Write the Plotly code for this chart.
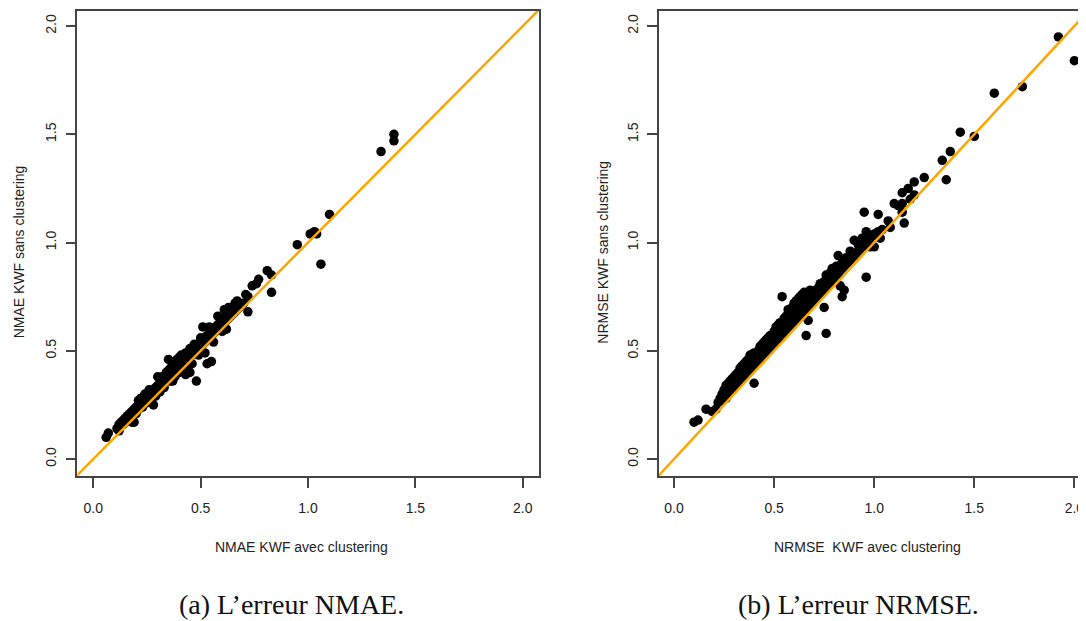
import plotly.graph_objects as go

# ---------------- data ----------------
nmae_avec = [0.06,0.07,0.11,0.12,0.12,0.13,0.14,0.14,0.15,0.15,0.16,0.16,0.17,0.17,0.18,0.18,0.18,0.19,0.19,0.19,
             0.20,0.20,0.20,0.21,0.21,0.21,0.22,0.22,0.22,0.23,0.23,0.23,0.24,0.24,0.24,0.25,0.25,0.25,0.26,0.26,
             0.26,0.27,0.27,0.27,0.28,0.28,0.28,0.29,0.29,0.29,0.30,0.30,0.30,0.31,0.31,0.31,0.32,0.32,0.32,0.33,
             0.33,0.33,0.34,0.34,0.34,0.35,0.35,0.35,0.35,0.36,0.36,0.36,0.36,0.37,0.37,0.37,0.37,0.38,0.38,0.38,
             0.38,0.39,0.39,0.39,0.40,0.40,0.40,0.40,0.41,0.41,0.41,0.42,0.42,0.42,0.43,0.43,0.43,0.43,0.44,0.44,
             0.44,0.45,0.45,0.45,0.45,0.46,0.46,0.46,0.47,0.47,0.47,0.48,0.48,0.48,0.49,0.49,0.49,0.50,0.50,0.50,
             0.51,0.51,0.51,0.52,0.52,0.52,0.53,0.53,0.53,0.54,0.54,0.54,0.55,0.55,0.55,0.56,0.56,0.56,0.57,0.57,
             0.58,0.58,0.58,0.59,0.59,0.60,0.60,0.60,0.61,0.61,0.61,0.62,0.62,0.62,0.63,0.63,0.64,0.64,0.65,0.65,
             0.66,0.66,0.67,0.67,0.68,0.68,0.69,0.70,0.71,0.72,0.72,0.74,0.76,0.77,0.81,0.83,0.83,0.95,1.01,1.03,
             1.04,1.06,1.10,1.34,1.40,1.40]
nmae_sans = [0.10,0.12,0.14,0.16,0.13,0.17,0.16,0.18,0.17,0.19,0.18,0.20,0.19,0.21,0.20,0.22,0.17,0.21,0.23,0.17,
             0.22,0.24,0.21,0.23,0.25,0.27,0.24,0.26,0.28,0.25,0.27,0.24,0.26,0.28,0.30,0.27,0.29,0.26,0.28,0.30,
             0.32,0.29,0.31,0.27,0.30,0.32,0.25,0.31,0.33,0.29,0.32,0.34,0.38,0.33,0.35,0.31,0.34,0.36,0.38,0.35,
             0.37,0.33,0.36,0.38,0.40,0.37,0.39,0.41,0.46,0.38,0.40,0.42,0.36,0.39,0.41,0.44,0.36,0.40,0.42,0.45,
             0.38,0.41,0.43,0.46,0.42,0.44,0.47,0.40,0.43,0.45,0.48,0.44,0.46,0.41,0.45,0.47,0.49,0.39,0.46,0.48,
             0.42,0.47,0.49,0.51,0.40,0.48,0.50,0.44,0.49,0.51,0.53,0.50,0.52,0.36,0.51,0.53,0.48,0.52,0.54,0.56,
             0.53,0.55,0.61,0.54,0.56,0.49,0.55,0.57,0.44,0.56,0.58,0.61,0.45,0.57,0.59,0.58,0.60,0.54,0.59,0.61,
             0.60,0.62,0.66,0.61,0.63,0.62,0.64,0.59,0.63,0.65,0.69,0.64,0.66,0.60,0.65,0.70,0.66,0.68,0.67,0.70,
             0.68,0.72,0.69,0.73,0.70,0.72,0.71,0.72,0.76,0.68,0.75,0.80,0.81,0.83,0.87,0.85,0.77,0.99,1.04,1.05,
             1.04,0.90,1.13,1.42,1.47,1.50]

nrmse_avec = [0.10,0.12,0.16,0.19,0.21,0.22,0.23,0.24,0.24,0.25,0.25,0.26,0.26,0.26,0.27,0.27,0.27,0.28,0.28,0.28,
              0.29,0.29,0.29,0.30,0.30,0.30,0.31,0.31,0.31,0.32,0.32,0.32,0.33,0.33,0.33,0.34,0.34,0.34,0.35,0.35,
              0.35,0.36,0.36,0.36,0.37,0.37,0.37,0.38,0.38,0.38,0.39,0.39,0.39,0.40,0.40,0.40,0.40,0.41,0.41,0.42,
              0.42,0.42,0.43,0.43,0.43,0.44,0.44,0.44,0.45,0.45,0.45,0.46,0.46,0.46,0.47,0.47,0.47,0.48,0.48,0.48,
              0.49,0.49,0.50,0.50,0.50,0.51,0.51,0.51,0.52,0.52,0.52,0.53,0.53,0.53,0.54,0.54,0.54,0.55,0.55,0.55,
              0.56,0.56,0.56,0.57,0.57,0.57,0.58,0.58,0.59,0.59,0.59,0.60,0.60,0.60,0.61,0.61,0.61,0.62,0.62,0.62,
              0.63,0.63,0.63,0.64,0.64,0.64,0.65,0.65,0.65,0.66,0.66,0.66,0.67,0.67,0.67,0.68,0.68,0.68,0.69,0.69,
              0.70,0.70,0.71,0.71,0.72,0.72,0.73,0.73,0.74,0.75,0.75,0.75,0.76,0.76,0.76,0.77,0.78,0.78,0.79,0.79,
              0.80,0.80,0.81,0.81,0.82,0.82,0.83,0.83,0.84,0.84,0.84,0.85,0.85,0.86,0.86,0.87,0.88,0.88,0.89,0.90,
              0.90,0.91,0.92,0.92,0.93,0.94,0.94,0.95,0.95,0.96,0.96,0.96,0.97,0.98,0.98,0.99,1.00,1.00,1.02,1.02,
              1.03,1.04,1.07,1.08,1.10,1.12,1.14,1.14,1.14,1.15,1.17,1.18,1.20,1.20,1.25,1.34,1.36,1.38,1.43,1.50,
              1.60,1.74,1.92,2.00]
nrmse_sans = [0.17,0.18,0.23,0.22,0.23,0.26,0.28,0.27,0.30,0.29,0.32,0.28,0.31,0.34,0.30,0.33,0.35,0.31,0.34,0.36,
              0.32,0.35,0.37,0.33,0.36,0.38,0.34,0.37,0.39,0.35,0.38,0.40,0.36,0.39,0.42,0.37,0.40,0.43,0.38,0.41,
              0.44,0.39,0.42,0.45,0.40,0.43,0.46,0.41,0.44,0.48,0.42,0.45,0.47,0.35,0.43,0.46,0.49,0.44,0.47,0.45,
              0.48,0.50,0.46,0.49,0.52,0.47,0.50,0.53,0.48,0.51,0.54,0.49,0.52,0.55,0.50,0.53,0.56,0.51,0.54,0.57,
              0.52,0.55,0.53,0.56,0.59,0.54,0.57,0.61,0.55,0.58,0.62,0.56,0.59,0.63,0.57,0.60,0.75,0.58,0.62,0.65,
              0.59,0.63,0.66,0.60,0.64,0.69,0.61,0.65,0.62,0.66,0.70,0.63,0.67,0.72,0.64,0.68,0.73,0.65,0.69,0.74,
              0.66,0.70,0.75,0.67,0.71,0.76,0.68,0.72,0.77,0.57,0.69,0.73,0.64,0.70,0.74,0.71,0.75,0.78,0.72,0.76,
              0.73,0.77,0.74,0.78,0.75,0.79,0.76,0.81,0.77,0.70,0.78,0.82,0.58,0.79,0.85,0.80,0.81,0.86,0.82,0.88,
              0.83,0.86,0.84,0.89,0.85,0.94,0.80,0.87,0.75,0.88,0.91,0.78,0.89,0.90,0.93,0.91,0.92,0.96,0.93,0.94,
              1.01,0.95,0.96,0.99,0.97,0.98,1.02,0.99,1.14,0.84,1.00,1.05,1.01,1.02,0.98,1.03,1.04,0.98,1.05,1.13,
              1.02,1.06,1.10,1.07,1.18,1.17,1.14,1.18,1.23,1.09,1.25,1.20,1.22,1.28,1.30,1.38,1.29,1.42,1.51,1.49,
              1.69,1.72,1.95,1.84]

tick_vals = [0.0, 0.5, 1.0, 1.5, 2.0]
tick_text = ["0.0", "0.5", "1.0", "1.5", "2.0"]
diag = [-0.2, 2.3]

# ---------------- figure ----------------
# The page body adds an 8 px margin, so the figure is 16 px smaller and
# every reference pixel position is shifted by -8.
OFF = 8
W, H = 1086 - OFF, 621 - OFF
def px(x):
    return (x - OFF) / W
def py(y):
    return 1 - (y - OFF) / H

AX_FONT = dict(family="Liberation Sans, Arial, sans-serif", size=14, color="#222222")
LINE_COL = "#444444"

fig = go.Figure()

fig.add_trace(go.Scatter(x=nmae_avec, y=nmae_sans, mode="markers",
                         marker=dict(color="black", size=9.5, line=dict(width=0)),
                         xaxis="x", yaxis="y", showlegend=False))
fig.add_trace(go.Scatter(x=diag, y=diag, mode="lines",
                         line=dict(color="#FFA500", width=2.5),
                         xaxis="x", yaxis="y", showlegend=False))
fig.add_trace(go.Scatter(x=nrmse_avec, y=nrmse_sans, mode="markers",
                         marker=dict(color="black", size=9.5, line=dict(width=0)),
                         xaxis="x2", yaxis="y2", showlegend=False))
fig.add_trace(go.Scatter(x=diag, y=diag, mode="lines",
                         line=dict(color="#FFA500", width=2.5),
                         xaxis="x2", yaxis="y2", showlegend=False))

common = dict(showgrid=False, zeroline=False, showline=True, linecolor=LINE_COL, linewidth=1.5,
              ticks="outside", ticklen=10, tickwidth=1.5, tickcolor=LINE_COL,
              tickvals=tick_vals, ticktext=tick_text, tickfont=AX_FONT)

ydom = [py(476), py(10.7)]
fig.update_layout(
    width=W, height=H,
    margin=dict(l=0, r=0, t=0, b=0),
    paper_bgcolor="white", plot_bgcolor="white",
    xaxis=dict(domain=[px(77.3), px(539.3)], range=[-0.0745, 2.077], anchor="y",
               mirror=True, ticklabelstandoff=8, **common),
    yaxis=dict(domain=ydom, range=[-0.0785, 2.071], anchor="x",
               mirror=True, tickangle=-90, ticklabelstandoff=4, **common),
    xaxis2=dict(domain=[px(659), 1.0], range=[-0.075, 2.058], anchor="y2",
                mirror=True, ticklabelstandoff=8, **common),
    yaxis2=dict(domain=ydom, range=[-0.0785, 2.071], anchor="x2",
                mirror=False, tickangle=-90, ticklabelstandoff=4, **common),
)

ann = []
ann.append(dict(text="NMAE KWF avec clustering", x=px(301), y=py(547), xref="paper", yref="paper",
                showarrow=False, font=AX_FONT, xanchor="center", yanchor="middle"))
ann.append(dict(text="NRMSE  KWF avec clustering", x=px(867.5), y=py(547), xref="paper", yref="paper",
                showarrow=False, font=AX_FONT, xanchor="center", yanchor="middle"))
ann.append(dict(text="NMAE KWF sans clustering", x=px(19.3), y=py(252), xref="paper", yref="paper",
                showarrow=False, font=AX_FONT, textangle=-90, xanchor="center", yanchor="middle"))
ann.append(dict(text="NRMSE KWF sans clustering", x=px(602.7), y=py(252), xref="paper", yref="paper",
                showarrow=False, font=AX_FONT, textangle=-90, xanchor="center", yanchor="middle"))
CAP_FONT = dict(family="Liberation Serif, Times New Roman, serif", size=28, color="#111111")
ann.append(dict(text="(a) L’erreur NMAE.", x=px(291), y=py(604), xref="paper", yref="paper",
                showarrow=False, font=CAP_FONT, xanchor="center", yanchor="middle"))
ann.append(dict(text="(b) L’erreur NRMSE.", x=px(858), y=py(604), xref="paper", yref="paper",
                showarrow=False, font=CAP_FONT, xanchor="center", yanchor="middle"))
fig.update_layout(annotations=ann)

fig.write_html("out.html")
